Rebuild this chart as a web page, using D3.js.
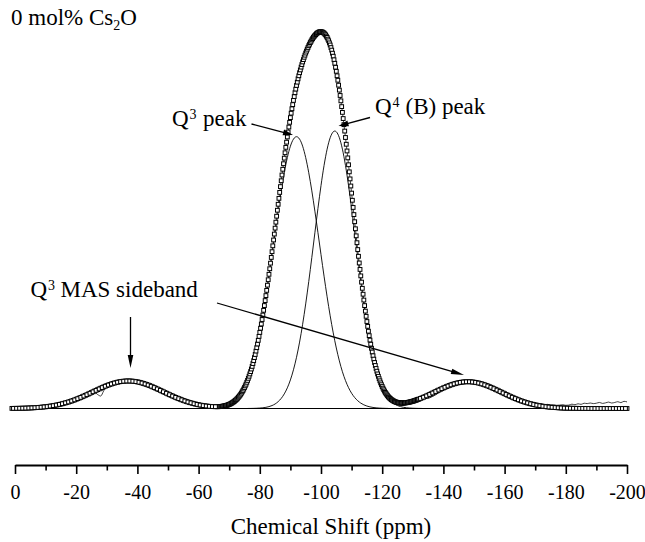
<!DOCTYPE html>
<html><head><meta charset="utf-8">
<script src="https://cdn.jsdelivr.net/npm/d3@7"></script>
<style>
html,body{margin:0;padding:0;background:#fff;}
svg{display:block;}
text{font-family:"Liberation Serif","Times New Roman",serif;fill:#000;}
</style>
</head><body>
<svg id="chart" width="645" height="542"></svg>
<script>
// ---- tick values (ppm) ----
const majorTicks = [0,-20,-40,-60,-80,-100,-120,-140,-160,-180,-200];
const minorTicks = [-10,-30,-50,-70,-90,-110,-130,-150,-170,-190];

// ---- fitted spectrum, drawn as open squares: [ppm, intensity] ----
const fitSpectrum = [
[1,0.03],[0,0.04],[-1,0.05],[-2,0.07],[-3,0.09],[-4,0.12],[-5,0.15],[-6,0.19],[-7,0.24],[-8,0.3],[-9,0.38],[-10,0.46],
[-11,0.57],[-12,0.69],[-13,0.83],[-14,0.99],[-15,1.17],[-16,1.38],[-17,1.61],[-18,1.86],[-19,2.14],[-20,2.45],
[-21,2.77],[-22,3.12],[-23,3.48],[-24,3.85],[-25,4.24],[-26,4.62],[-27,5.0],[-28,5.37],[-29,5.73],[-30,6.07],
[-31,6.37],[-32,6.64],[-33,6.87],[-34,7.06],[-35,7.19],[-36,7.27],[-37,7.3],[-38,7.27],[-39,7.19],[-40,7.06],
[-41,6.87],[-42,6.64],[-43,6.37],[-44,6.07],[-45,5.73],[-46,5.37],[-47,5.0],[-48,4.62],[-49,4.24],[-50,3.85],
[-51,3.48],[-52,3.12],[-53,2.77],[-54,2.45],[-55,2.14],[-56,1.86],[-57,1.61],[-58,1.38],[-59,1.17],[-60,0.99],
[-61,0.84],[-62,0.71],[-63,0.61],[-64,0.53],[-65,0.49],
[-66,0.48],[-66.25,0.48],[-66.5,0.49],[-66.75,0.5],[-67,0.52],[-67.25,0.54],[-67.5,0.56],[-67.75,0.59],
[-68,0.62],[-68.25,0.66],[-68.5,0.7],[-68.75,0.75],[-69,0.8],[-69.25,0.86],[-69.5,0.93],[-69.75,1.01],
[-70,1.09],[-70.25,1.18],[-70.5,1.28],[-70.75,1.4],[-71,1.52],[-71.25,1.66],[-71.5,1.8],[-71.75,1.96],
[-72,2.13],[-72.25,2.32],[-72.5,2.51],[-72.75,2.73],[-73,2.96],[-73.25,3.22],[-73.5,3.49],[-73.75,3.78],
[-74,4.08],[-74.25,4.42],[-74.5,4.77],[-74.75,5.16],[-75,5.56],[-75.25,6.0],[-75.5,6.44],[-75.75,6.94],
[-76,7.44],[-76.25,7.99],[-76.5,8.55],[-76.75,9.16],[-77,9.78],[-77.25,10.46],[-77.5,11.15],[-77.75,11.91],
[-78,12.67],[-78.25,13.49],[-78.5,14.31],[-78.75,15.21],[-79,16.11],[-79.25,17.08],[-79.5,18.05],[-79.75,19.1],
[-80,20.15],[-80.25,21.26],[-80.5,22.38],[-80.75,23.57],[-81,24.76],[-81.25,26.01],[-81.5,27.27],[-81.75,28.59],
[-82,29.91],[-82.25,31.29],[-82.5,32.67],[-82.75,34.11],[-83,35.55],[-83.25,37.02],[-83.5,38.5],[-83.75,40.02],
[-84,41.54],[-84.25,43.09],[-84.5,44.64],[-84.75,46.21],[-85,47.78],[-85.25,49.36],[-85.5,50.94],[-85.75,52.52],
[-86,54.1],[-86.25,55.67],[-86.5,57.24],[-86.75,58.78],[-87,60.33],[-87.25,61.85],[-87.5,63.37],[-87.75,64.84],
[-88,66.32],[-88.25,67.75],[-88.5,69.18],[-88.75,70.55],[-89,71.93],[-89.25,73.24],[-89.5,74.56],[-89.75,75.81],
[-90,77.06],[-90.25,78.23],[-90.5,79.4],[-90.75,80.5],[-91,81.61],[-91.25,82.63],[-91.5,83.66],[-91.75,84.61],
[-92,85.57],[-92.25,86.45],[-92.5,87.33],[-92.75,88.14],[-93,88.95],[-93.25,89.69],[-93.5,90.43],[-93.75,91.11],
[-94,91.8],[-94.25,92.42],[-94.5,93.04],[-94.75,93.6],[-95,94.16],[-95.25,94.67],[-95.5,95.18],[-95.75,95.64],
[-96,96.1],[-96.25,96.51],[-96.5,96.93],[-96.75,97.29],[-97,97.66],[-97.25,97.98],[-97.5,98.3],[-97.75,98.56],
[-98,98.83],[-98.25,99.04],[-98.5,99.26],[-98.75,99.42],[-99,99.58],[-99.25,99.67],[-99.5,99.76],[-99.75,99.79],
[-100,99.81],[-100.25,99.75],[-100.5,99.7],[-100.75,99.56],[-101,99.43],[-101.25,99.19],[-101.5,98.96],[-101.75,98.63],
[-102,98.3],[-102.25,97.85],[-102.5,97.41],[-102.75,96.85],[-103,96.29],[-103.25,95.61],[-103.5,94.93],[-103.75,94.12],
[-104,93.32],[-104.25,92.38],[-104.5,91.45],[-104.75,90.39],[-105,89.33],[-105.25,88.14],[-105.5,86.96],[-105.75,85.65],
[-106,84.34],[-106.25,82.92],[-106.5,81.5],[-106.75,79.97],[-107,78.44],[-107.25,76.81],[-107.5,75.19],[-107.75,73.49],
[-108,71.79],[-108.25,70.0],[-108.5,68.22],[-108.75,66.39],[-109,64.57],[-109.25,62.69],[-109.5,60.82],[-109.75,58.94],
[-110,57.06],[-110.25,55.16],[-110.5,53.26],[-110.75,51.37],[-111,49.48],[-111.25,47.61],[-111.5,45.74],[-111.75,43.92],
[-112,42.1],[-112.25,40.32],[-112.5,38.55],[-112.75,36.84],[-113,35.13],[-113.25,33.48],[-113.5,31.84],[-113.75,30.28],
[-114,28.73],[-114.25,27.26],[-114.5,25.8],[-114.75,24.42],[-115,23.04],[-115.25,21.76],[-115.5,20.48],[-115.75,19.3],
[-116,18.12],[-116.25,17.03],[-116.5,15.95],[-116.75,14.96],[-117,13.98],[-117.25,13.08],[-117.5,12.19],[-117.75,11.39],
[-118,10.6],[-118.25,9.88],[-118.5,9.16],[-118.75,8.53],[-119,7.9],[-119.25,7.34],[-119.5,6.79],[-119.75,6.3],
[-120,5.82],[-120.25,5.39],[-120.5,4.97],[-120.75,4.61],[-121,4.26],[-121.25,3.95],[-121.5,3.65],[-121.75,3.39],
[-122,3.13],[-122.25,2.91],[-122.5,2.7],[-122.75,2.53],[-123,2.36],[-123.25,2.22],[-123.5,2.08],[-123.75,1.97],
[-124,1.86],[-124.25,1.78],[-124.5,1.7],[-124.75,1.64],[-125,1.58],[-125.25,1.54],[-125.5,1.5],[-125.75,1.48],
[-126,1.46],[-126.25,1.45],[-126.5,1.44],[-126.75,1.45],[-127,1.46],[-127.25,1.47],[-127.5,1.49],[-127.75,1.52],
[-128,1.55],[-128.25,1.59],[-128.5,1.63],[-128.75,1.67],[-129,1.72],[-129.25,1.77],[-129.5,1.82],[-129.75,1.87],
[-130,1.93],[-130.25,1.99],[-130.5,2.06],[-130.75,2.13],[-131,2.2],[-131.25,2.27],[-131.5,2.35],[-131.75,2.42],
[-132,2.5],
[-133,2.82],[-134,3.16],[-135,3.53],[-136,3.92],[-137,4.31],[-138,4.7],[-139,5.08],[-140,5.45],
[-141,5.8],[-142,6.12],[-143,6.4],[-144,6.65],[-145,6.84],[-146,6.98],[-147,7.07],[-148,7.1],[-149,7.07],[-150,6.98],
[-151,6.84],[-152,6.65],[-153,6.4],[-154,6.12],[-155,5.8],[-156,5.45],[-157,5.08],[-158,4.7],[-159,4.31],[-160,3.92],
[-161,3.53],[-162,3.16],[-163,2.8],[-164,2.47],[-165,2.15],[-166,1.86],[-167,1.6],[-168,1.36],[-169,1.15],[-170,0.96],
[-171,0.8],[-172,0.66],[-173,0.54],[-174,0.43],[-175,0.35],[-176,0.28],[-177,0.22],[-178,0.17],[-179,0.13],[-180,0.1],
[-181,0.08],[-182,0.06],[-183,0.05],[-184,0.03],[-185,0.02],[-186,0.02],[-187,0.01],[-188,0.01],[-189,0],[-190,0],
[-191,0],[-192,0],[-193,0],[-194,0],[-195,0],[-196,0],[-197,0],[-198,0],[-199,0],[-200,0]
];

// ---- fitted spectrum, intermediate (half-ppm) points outside the main peak ----
const fitSpectrumHalf = [
[0.5,0.035],[-0.5,0.045],[-1.5,0.06],[-2.5,0.08],[-3.5,0.1],[-4.5,0.13],[-5.5,0.17],[-6.5,0.21],[-7.5,0.27],[-8.5,0.34],
[-9.5,0.42],[-10.5,0.51],[-11.5,0.63],[-12.5,0.76],[-13.5,0.91],[-14.5,1.08],[-15.5,1.27],[-16.5,1.5],[-17.5,1.73],[-18.5,2.0],
[-19.5,2.29],[-20.5,2.61],[-21.5,2.94],[-22.5,3.3],[-23.5,3.66],[-24.5,4.04],[-25.5,4.43],[-26.5,4.81],[-27.5,5.18],[-28.5,5.55],
[-29.5,5.9],[-30.5,6.22],[-31.5,6.5],[-32.5,6.75],[-33.5,6.96],[-34.5,7.12],[-35.5,7.23],[-36.5,7.28],[-37.5,7.28],[-38.5,7.23],
[-39.5,7.12],[-40.5,6.96],[-41.5,6.75],[-42.5,6.5],[-43.5,6.22],[-44.5,5.9],[-45.5,5.55],[-46.5,5.18],[-47.5,4.81],[-48.5,4.43],
[-49.5,4.04],[-50.5,3.66],[-51.5,3.3],[-52.5,2.94],[-53.5,2.61],[-54.5,2.29],[-55.5,2.0],[-56.5,1.73],[-57.5,1.5],[-58.5,1.27],
[-59.5,1.08],[-60.5,0.91],[-61.5,0.77],[-62.5,0.66],[-63.5,0.57],[-64.5,0.51],[-65.5,0.48],
[-132.5,2.66],[-133.5,2.99],[-134.5,3.34],[-135.5,3.72],[-136.5,4.11],[-137.5,4.5],[-138.5,4.89],[-139.5,5.26],[-140.5,5.62],
[-141.5,5.96],[-142.5,6.26],[-143.5,6.52],[-144.5,6.74],[-145.5,6.91],[-146.5,7.02],[-147.5,7.08],[-148.5,7.08],[-149.5,7.02],
[-150.5,6.91],[-151.5,6.74],[-152.5,6.52],[-153.5,6.26],[-154.5,5.96],[-155.5,5.62],[-156.5,5.26],[-157.5,4.89],[-158.5,4.5],
[-159.5,4.11],[-160.5,3.72],[-161.5,3.34],[-162.5,2.98],[-163.5,2.63],[-164.5,2.31],[-165.5,2.0],[-166.5,1.73],[-167.5,1.48],
[-168.5,1.25],[-169.5,1.05],[-170.5,0.88],[-171.5,0.73],[-172.5,0.6],[-173.5,0.48],[-174.5,0.39],[-175.5,0.31],[-176.5,0.25],
[-177.5,0.19],[-178.5,0.15],[-179.5,0.11],[-180.5,0.09],[-181.5,0.07],[-182.5,0.05],[-183.5,0.04],[-184.5,0.02],[-185.5,0.02],
[-186.5,0.01],[-187.5,0.01],[-188.5,0],[-189.5,0],[-190.5,0],[-191.5,0],[-192.5,0],[-193.5,0],[-194.5,0],[-195.5,0],
[-196.5,0],[-197.5,0],[-198.5,0],[-199.5,0]
];

// ---- measured spectrum, thin line: [ppm, intensity] ----
const measuredSpectrum = [
[1,0.05],[0,0.02],[-1,0.06],[-2,0.05],[-3,0.1],[-4,0.11],[-5,0.16],[-6,0.2],[-7,0.23],[-8,0.31],[-9,0.4],[-10,0.45],
[-11,0.58],[-12,0.7],[-13,0.82],[-14,1.0],[-15,1.18],[-16,1.37],[-17,1.62],[-18,1.87],[-19,2.13],[-20,2.46],
[-21,2.78],[-22,3.1],[-23,3.47],[-24,3.86],[-25,4.2],[-26,4.3],[-27,3.7],[-28,3.3],[-29,4.7],[-30,6.0],
[-31,6.36],[-32,6.65],[-33,6.86],[-34,7.05],[-35,7.2],[-36,7.26],[-37,7.3],[-38,7.28],[-39,7.18],[-40,7.05],
[-41,6.88],[-42,6.63],[-43,6.38],[-44,6.06],[-45,5.74],[-46,5.36],[-47,5.01],[-48,4.61],[-49,4.25],[-50,3.84],
[-51,3.49],[-52,3.11],[-53,2.9],[-54,3.0],[-55,2.7],[-56,1.9],[-57,1.6],[-58,1.39],[-59,1.16],[-60,1.0],
[-61,0.83],[-62,0.72],[-63,0.6],[-64,0.54],[-65,0.48],[-66,0.49],[-67,0.52],[-68,0.62],[-69,0.8],[-70,1.09],
[-71,1.52],[-72,2.13],[-73,2.96],[-74,4.08],[-75,5.56],[-76,7.44],[-77,9.78],[-78,12.67],[-79,16.11],[-80,20.15],
[-81,24.76],[-82,29.91],[-83,35.55],[-84,41.54],[-85,47.78],[-86,54.1],[-87,60.33],[-88,66.32],[-89,71.93],[-90,77.06],
[-91,81.61],[-92,85.57],[-93,88.95],[-94,91.8],[-95,94.16],[-96,96.1],[-97,97.66],[-98,98.83],[-99,99.58],[-100,99.81],
[-101,99.43],[-102,98.3],[-103,96.29],[-104,93.32],[-105,89.33],[-106,84.34],[-107,78.44],[-108,71.79],[-109,64.57],[-110,57.06],
[-111,49.48],[-112,42.1],[-113,35.13],[-114,28.73],[-115,23.04],[-116,18.12],[-117,13.98],[-118,10.6],[-119,7.9],[-120,5.82],
[-121,4.26],[-122,3.13],[-123,2.36],[-124,1.86],[-125,1.58],[-126,1.46],[-127,1.46],[-128,1.55],[-129,1.72],[-130,1.93],
[-131,2.2],[-132,2.5],[-133,2.8],[-134,3.0],[-135,2.7],[-136,3.0],[-137,3.4],[-138,3.9],[-139,4.5],[-140,5.2],
[-141,5.8],[-142,6.13],[-143,6.39],[-144,6.66],[-145,6.83],[-146,6.99],[-147,7.06],[-148,7.1],[-149,7.08],[-150,6.97],
[-151,6.85],[-152,6.64],[-153,6.41],[-154,6.11],[-155,5.81],[-156,5.44],[-157,5.09],[-158,4.69],[-159,4.32],[-160,3.91],
[-161,3.54],[-162,3.15],[-163,2.81],[-164,2.46],[-165,2.16],[-166,1.85],[-167,1.61],[-168,1.4],[-169,1.2],[-170,1.05],
[-171,1.1],[-172,1.2],[-173,1.0],[-174,1.1],[-175,0.9],[-176,1.0],[-177,0.85],[-178,0.9],[-179,1.0],[-180,0.85],
[-181,0.9],[-182,1.15],[-183,1.0],[-184,1.25],[-185,1.1],[-186,1.4],[-187,1.3],[-188,1.45],[-189,1.3],[-190,1.4],
[-191,1.6],[-192,1.35],[-193,1.5],[-194,1.7],[-195,1.45],[-196,1.6],[-197,1.8],[-198,1.55],[-199,1.9],[-200,1.75]
];

// ---- deconvoluted components ----
const q3Peak = [
[-62,0.02],[-63,0.04],[-64,0.07],[-65,0.11],[-66,0.18],[-67,0.28],[-68,0.43],[-69,0.65],[-70,0.97],[-71,1.43],
[-72,2.06],[-73,2.91],[-74,4.04],[-75,5.52],[-76,7.4],[-77,9.74],[-78,12.61],[-79,16.03],[-80,20.02],[-81,24.56],
[-82,29.6],[-83,35.05],[-84,40.76],[-85,46.58],[-86,52.28],[-87,57.65],[-88,62.45],[-89,66.46],[-90,69.49],[-91,71.36],
[-92,72],[-93,71.36],[-94,69.49],[-95,66.46],[-96,62.45],[-97,57.65],[-98,52.28],[-99,46.58],[-100,40.76],[-101,35.05],
[-102,29.6],[-103,24.56],[-104,20.02],[-105,16.03],[-106,12.61],[-107,9.74],[-108,7.4],[-109,5.52],[-110,4.04],[-111,2.91],
[-112,2.06],[-113,1.43],[-114,0.97],[-115,0.65],[-116,0.43],[-117,0.28],[-118,0.18],[-119,0.11],[-120,0.07],[-121,0.04],[-122,0.02]
];
const q4Peak = [
[-76,0.01],[-77,0.02],[-78,0.04],[-79,0.07],[-80,0.12],[-81,0.19],[-82,0.31],[-83,0.5],[-84,0.78],[-85,1.2],
[-86,1.82],[-87,2.68],[-88,3.87],[-89,5.47],[-90,7.57],[-91,10.25],[-92,13.57],[-93,17.59],[-94,22.31],[-95,27.7],
[-96,33.65],[-97,40.01],[-98,46.55],[-99,53.0],[-100,59.05],[-101,64.38],[-102,68.7],[-103,71.73],[-104,73.3],[-104.5,73.5],
[-105,73.3],[-106,71.73],[-107,68.7],[-108,64.38],[-109,59.05],[-110,53.0],[-111,46.55],[-112,40.01],[-113,33.65],[-114,27.7],
[-115,22.31],[-116,17.59],[-117,13.57],[-118,10.25],[-119,7.57],[-120,5.47],[-121,3.87],[-122,2.68],[-123,1.82],[-124,1.2],
[-125,0.78],[-126,0.5],[-127,0.31],[-128,0.19],[-129,0.12],[-130,0.07],[-131,0.04],[-132,0.02],[-133,0.01]
];
const zeroLine = [[1,0],[-200,0]];

// ---- drawing ----
const svg = d3.select('#chart');
svg.append('rect').attr('width',645).attr('height',542).attr('fill','#fff');

const x = d3.scaleLinear().domain([0,-200]).range([15,627]);
const y = d3.scaleLinear().domain([0,100]).range([408.5,31]);
const line = d3.line().x(d => x(d[0])).y(d => y(d[1]));
const smooth = d3.line().x(d => x(d[0])).y(d => y(d[1])).curve(d3.curveMonotoneX);

const plot = svg.append('g');
plot.append('path').datum(zeroLine).attr('d', line)
  .attr('fill','none').attr('stroke','#000').attr('stroke-width',1.2);
[q3Peak, q4Peak].forEach(c => {
  plot.append('path').datum(c).attr('d', smooth)
    .attr('fill','none').attr('stroke','#000').attr('stroke-width',0.9);
});
plot.append('path').datum(measuredSpectrum).attr('d', smooth)
  .attr('fill','none').attr('stroke','#111').attr('stroke-width',0.8);

const s = 3.8;
const squares = fitSpectrum.concat(fitSpectrumHalf);
plot.selectAll('rect.pt').data(squares).join('rect')
  .attr('class','pt')
  .attr('x', d => x(d[0]) - s/2).attr('y', d => y(d[1]) - s/2)
  .attr('width', s).attr('height', s)
  .attr('fill','#fff').attr('stroke','#000').attr('stroke-width',1);

// ---- axis ----
const axisY = 465;
const serif = '"Liberation Serif","Times New Roman",serif';
const gMinor = svg.append('g').attr('transform',`translate(0,${axisY})`)
  .call(d3.axisBottom(x).tickValues(minorTicks).tickSize(5.5).tickSizeOuter(0).tickFormat(''));
gMinor.select('.domain').remove();
gMinor.selectAll('line').attr('stroke','#000').attr('stroke-width',1.6);

const gMajor = svg.append('g').attr('transform',`translate(0,${axisY})`)
  .attr('font-family', serif)
  .call(d3.axisBottom(x).tickValues(majorTicks).tickSize(9).tickSizeOuter(0).tickPadding(11)
        .tickFormat(d => String(d)));
gMajor.attr('font-family', serif).attr('font-size', 20);
gMajor.select('.domain').attr('stroke','#000').attr('stroke-width',2);
gMajor.selectAll('line').attr('stroke','#000').attr('stroke-width',1.6);
gMajor.selectAll('text')
  .attr('font-family', serif)
  .attr('font-size',20).attr('fill','#000');

svg.append('text').attr('x',331).attr('y',534).attr('text-anchor','middle')
  .attr('font-family', serif).attr('font-size',23).text('Chemical Shift (ppm)');

// ---- header ----
const hdr = svg.append('text').attr('x',11).attr('y',25).attr('font-family', serif).attr('font-size',23);
hdr.append('tspan').text('0 mol% Cs');
hdr.append('tspan').attr('font-size',14).attr('dy',5).text('2');
hdr.append('tspan').attr('dy',-5).text('O');

// ---- annotations ----
function label(x0, yb, supX, sup, restX, rest) {
  svg.append('text').attr('x',x0).attr('y',yb).attr('font-family', serif).attr('font-size',23).text('Q');
  svg.append('text').attr('x',supX).attr('y',yb-7).attr('font-family', serif).attr('font-size',14).text(sup);
  svg.append('text').attr('x',restX).attr('y',yb).attr('font-family', serif).attr('font-size',23).text(rest);
}
label(172, 126, 189.5, '3', 203, 'peak');
label(375, 114, 392.5, '4', 405.5, '(B) peak');
label(30.5, 297, 48, '3', 60.5, 'MAS sideband');

function arrow(x1, y1, x2, y2, len, hw) {
  const dx = x2 - x1, dy = y2 - y1, L = Math.hypot(dx, dy);
  const ux = dx / L, uy = dy / L;
  const bx = x2 - ux * len, by = y2 - uy * len;
  svg.append('line').attr('x1',x1).attr('y1',y1).attr('x2',bx + ux*1).attr('y2',by + uy*1)
    .attr('stroke','#000').attr('stroke-width',1.3);
  svg.append('path')
    .attr('d',`M${x2},${y2}L${bx - uy*hw},${by + ux*hw}L${bx + uy*hw},${by - ux*hw}Z`)
    .attr('fill','#000');
}
arrow(251.5, 124, 293, 135, 10, 3);
arrow(370, 117.5, 338.5, 126, 10, 3);
arrow(130.5, 317, 130.5, 368, 13, 2.8);
arrow(217, 303, 464, 375, 13, 2.8);
</script>
</body></html>
